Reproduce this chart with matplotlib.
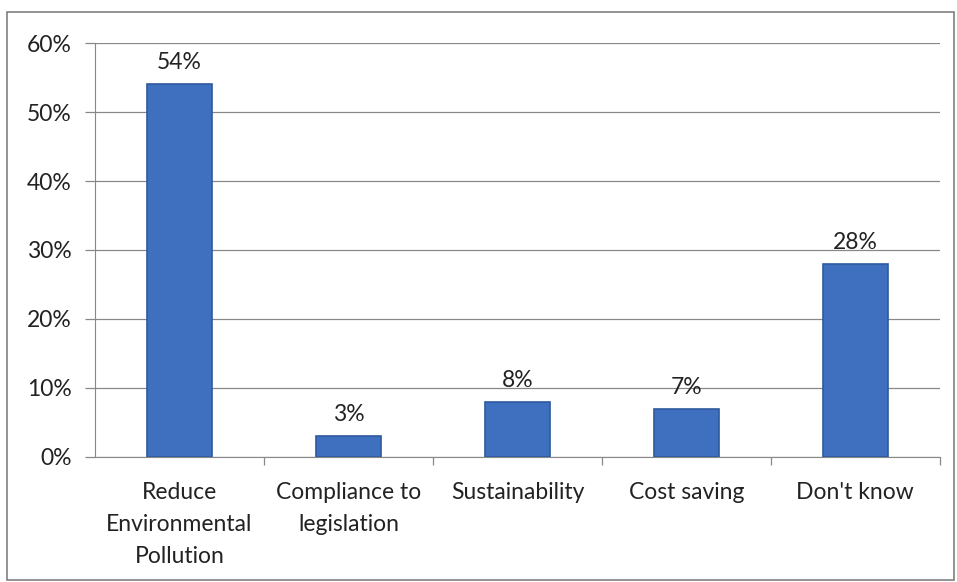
import matplotlib.pyplot as plt
from matplotlib.patches import Rectangle

categories = ["Reduce\nEnvironmental\nPollution", "Compliance to\nlegislation",
              "Sustainability", "Cost saving", "Don't know"]
values = [54, 3, 8, 7, 28]

plt.rcParams['font.family'] = ['Lato', 'DejaVu Sans']

fig = plt.figure(figsize=(9.57, 5.82), dpi=100)
ax = fig.add_axes([0.0993, 0.2148, 0.8827, 0.7113])

x = range(len(values))
bars = ax.bar(x, values, width=0.385, color='#3F6FBF', edgecolor='#2E5A9E',
              linewidth=1.2, zorder=3)
for b, v in zip(bars, values):
    ax.annotate(f"{v}%", (b.get_x() + b.get_width() / 2, v), xytext=(0, 8),
                textcoords='offset points', ha='center', va='bottom',
                fontsize=16.5, color='#222222')

ax.set_xlim(-0.5, len(values) - 0.5)
ax.set_ylim(0, 60)
ax.set_yticks(range(0, 61, 10))
ax.set_yticklabels([f"{t}%" for t in range(0, 61, 10)], fontsize=16.5, color='#222222')
ax.yaxis.grid(True, color='#888888', linewidth=0.9, zorder=0)
ax.tick_params(axis='y', length=7, color='#888888', width=0.9, pad=10)

# category labels at centres, tick marks at boundaries
ax.set_xticks(list(x))
ax.set_xticklabels(categories, fontsize=16.5, color='#222222', linespacing=1.65)
ax.tick_params(axis='x', length=0, pad=18)
ax.set_xticks([i + 0.5 for i in range(len(values))], minor=True)
ax.tick_params(axis='x', which='minor', length=6, color='#888888', width=0.9)

for s in ['top', 'right']:
    ax.spines[s].set_visible(False)
ax.spines['left'].set_color('#888888')
ax.spines['bottom'].set_color('#888888')

fig.patches.append(Rectangle((0.0073, 0.004), 0.990, 0.975, transform=fig.transFigure,
                             fill=False, edgecolor='#808080', linewidth=1.2))

fig.savefig('out.png', dpi=100)
